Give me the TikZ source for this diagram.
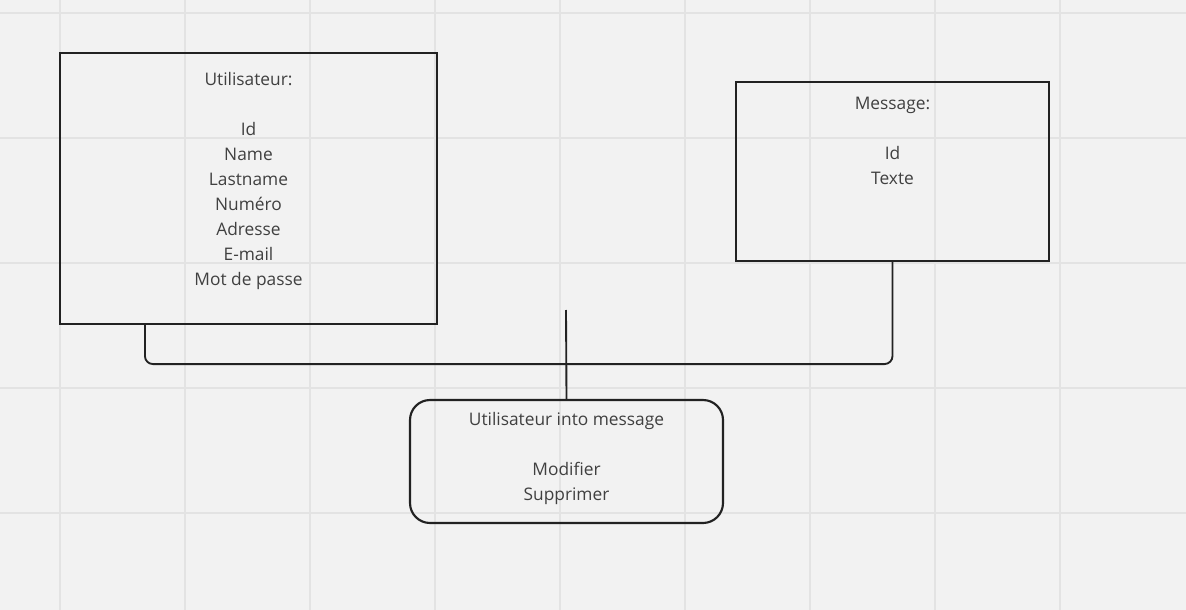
\documentclass[tikz,border=0pt]{standalone}
\usepackage{fontspec}
\setmainfont{Open Sans}
\usetikzlibrary{positioning,calc}
\definecolor{board}{HTML}{F2F2F2}
\definecolor{gridgray}{HTML}{E3E3E3}
\definecolor{ink}{HTML}{222222}
\definecolor{textgray}{HTML}{404040}
\tikzset{
  gridline/.style={gridgray, line width=1.2pt},
  entity/.style={draw=ink, line width=1.6pt, minimum width=#1, inner sep=0pt},
  entitytext/.style={anchor=north, align=center, text=textgray, font=\fontsize{13}{18.75}\selectfont, inner sep=0pt},
  link/.style={draw=ink, line width=1.4pt}
}
\begin{document}
\begin{tikzpicture}[x=0.75pt,y=-0.75pt]
      \fill[board] (0,0) rectangle (1186,610);
      \useasboundingbox (0,0) rectangle (1186,610);
      \foreach \x in {60,185,...,1060}{
        \draw[gridline] (\x,0) -- (\x,610);
      }
      \foreach \y in {13,138,...,513}{
        \draw[gridline] (0,\y) -- (1186,\y);
      }
      \node[entity=282.75pt, minimum height=203.25pt] (user) at (248.5,188.5) {};
      \node[entity=234.75pt, minimum height=134.25pt] (msg) at (892.5,171.5) {};
      \node[entity=234.75pt, minimum height=92.25pt, rounded corners=15pt] (action) at (566.5,461.5) {};
      \node[entitytext] (usertext) at ($(user.north)+(0,20)$)
        {Utilisateur:\\[18.75pt]Id\\Name\\Lastname\\Numéro\\Adresse\\E-mail\\Mot de passe};
      \node[entitytext] (msgtext) at ($(msg.north)+(0,16)$) {Message:\\[18.75pt]Id\\Texte};
      \node[entitytext] (actiontext) at ($(action.north)+(0,13)$) {Utilisateur into message\\[18.75pt]Modifier\\Supprimer};
      \coordinate (tick) at (566,310);
      \draw[link, rounded corners=6pt] ($(user.south west)+(86,0)$) -- ++(0,39) -| (msg.south);
      \draw[link] (action.north) -- (tick);
    \end{tikzpicture}
\end{document}
